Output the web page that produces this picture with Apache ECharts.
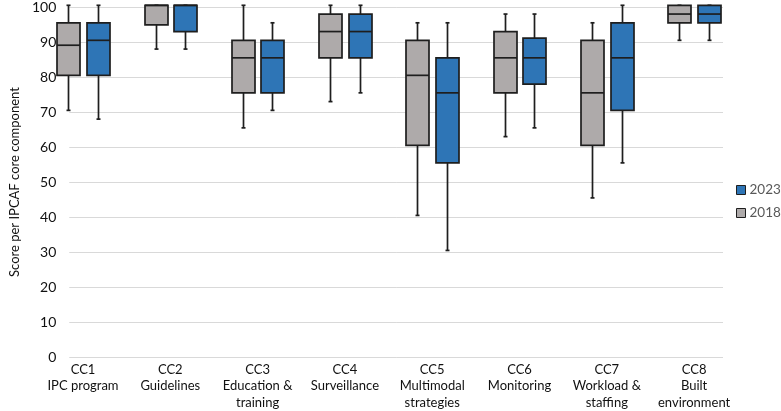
<!DOCTYPE html>
<html>
<head>
<meta charset="utf-8">
<script src="https://cdn.jsdelivr.net/npm/echarts@6/dist/echarts.min.js"></script>
<style>html,body{margin:0;padding:0;background:#fff}#c{width:781px;height:411px}</style>
</head>
<body>
<div id="c"></div>
<script>
// ---- data ----
var categories = ['CC1\nIPC program', 'CC2\nGuidelines', 'CC3\nEducation &\ntraining', 'CC4\nSurveillance',
  'CC5\nMultimodal\nstrategies', 'CC6\nMonitoring', 'CC7\nWorkload &\nstaffing', 'CC8\nBuilt\nenvironment'];
var seriesNames = ['2018', '2023'];
var yTicks = [0, 100, 10]; // min, max, interval
// [min, Q1, median, Q3, max] per category
var stats2018 = [
  [70, 80, 88.6, 95, 100],
  [87.5, 94.4, 100, 100, 100],
  [65, 75, 85, 90, 100],
  [72.5, 85, 92.5, 97.5, 100],
  [40, 60, 80, 90, 95],
  [62.5, 75, 85, 92.5, 97.5],
  [45, 60, 75, 90, 95],
  [90, 95, 97.5, 100, 100]
];
var stats2023 = [
  [67.5, 80, 90, 95, 100],
  [87.5, 92.5, 100, 100, 100],
  [70, 75, 85, 90, 95],
  [75, 85, 92.5, 97.5, 100],
  [30, 55, 75, 85, 95],
  [65, 77.5, 85, 90.6, 97.5],
  [55, 70, 85, 95, 100],
  [90, 95, 97.5, 100, 100]
];

// ---- styles ----
var COLOR_2018 = '#aeaaaa';
var COLOR_2023 = '#2e75b6';
var LINE = '#1e1e1e';
var BOX_W = 23, CAP_W = 4, OFFSET = 14.75;
var FONT = 'Lato';

function withIndex(arr) { return arr.map(function (s, i) { return [i].concat(s); }); }

function makeRender(offsetPx, fill) {
  return function (params, api) {
    var i = api.value(0);
    var pMin = api.coord([i, api.value(1)]);
    var pQ1 = api.coord([i, api.value(2)]);
    var pMed = api.coord([i, api.value(3)]);
    var pQ3 = api.coord([i, api.value(4)]);
    var pMax = api.coord([i, api.value(5)]);
    var cx = Math.round(pMed[0] + offsetPx) + 0.5;
    var hw = BOX_W / 2, ch = CAP_W / 2;
    var ls = { stroke: LINE, lineWidth: 1.7 };
    return {
      type: 'group',
      children: [
        { type: 'line', shape: { x1: cx, y1: pMax[1], x2: cx, y2: pQ3[1] }, style: ls },
        { type: 'line', shape: { x1: cx, y1: pQ1[1], x2: cx, y2: pMin[1] }, style: ls },
        { type: 'line', shape: { x1: cx - ch, y1: pMax[1], x2: cx + ch, y2: pMax[1] }, style: ls },
        { type: 'line', shape: { x1: cx - ch, y1: pMin[1], x2: cx + ch, y2: pMin[1] }, style: ls },
        { type: 'rect', shape: { x: cx - hw, y: pQ3[1], width: BOX_W, height: pQ1[1] - pQ3[1] },
          style: { fill: fill, stroke: LINE, lineWidth: 1.7 } },
        { type: 'line', shape: { x1: cx - hw, y1: pMed[1], x2: cx + hw, y2: pMed[1] }, style: ls }
      ]
    };
  };
}

var chart = echarts.init(document.getElementById('c'));
chart.setOption({
  animation: false,
  textStyle: { fontFamily: FONT },
  grid: [
    { left: 53, right: 58, top: 5.3, bottom: 54 },
    { left: 39.35, right: 43.25, top: 5.3, bottom: 54 }
  ],
  legend: {
    orient: 'vertical',
    left: 736, top: 183,
    padding: 0,
    itemWidth: 9, itemHeight: 9, itemGap: 9,
    textStyle: { color: '#595959', fontSize: 13.5, lineHeight: 14, fontFamily: FONT, padding: [0, 0, 0, -1] },
    data: [
      { name: '2023', icon: 'rect', itemStyle: { color: COLOR_2023, borderColor: LINE, borderWidth: 1 } },
      { name: '2018', icon: 'rect', itemStyle: { color: COLOR_2018, borderColor: LINE, borderWidth: 1 } }
    ]
  },
  xAxis: [
    { gridIndex: 0, type: 'category', data: categories, show: false },
    { gridIndex: 1, type: 'category', data: categories,
      axisLine: { show: false }, axisTick: { show: false },
      axisLabel: { color: '#111', fontSize: 13, lineHeight: 16.5, margin: 6, interval: 0, fontFamily: FONT } }
  ],
  yAxis: [
    { gridIndex: 0, type: 'value', min: yTicks[0], max: yTicks[1], interval: yTicks[2],
      axisLine: { show: false }, axisTick: { show: false },
      axisLabel: { color: '#111', fontSize: 14, margin: 13, fontFamily: FONT },
      splitLine: { lineStyle: { color: '#d9d9d9', width: 1 } },
      name: 'Score per IPCAF core component', nameLocation: 'middle', nameGap: 39,
      nameTextStyle: { color: '#111', fontSize: 13, fontFamily: FONT } },
    { gridIndex: 1, type: 'value', min: yTicks[0], max: yTicks[1], show: false }
  ],
  series: [
    { name: seriesNames[0], type: 'custom', xAxisIndex: 1, yAxisIndex: 1,
      itemStyle: { color: COLOR_2018 },
      renderItem: makeRender(-OFFSET, COLOR_2018),
      encode: { x: 0, y: [1, 2, 3, 4, 5] },
      data: withIndex(stats2018) },
    { name: seriesNames[1], type: 'custom', xAxisIndex: 1, yAxisIndex: 1,
      itemStyle: { color: COLOR_2023 },
      renderItem: makeRender(OFFSET, COLOR_2023),
      encode: { x: 0, y: [1, 2, 3, 4, 5] },
      data: withIndex(stats2023) }
  ]
});
</script>
</body>
</html>
